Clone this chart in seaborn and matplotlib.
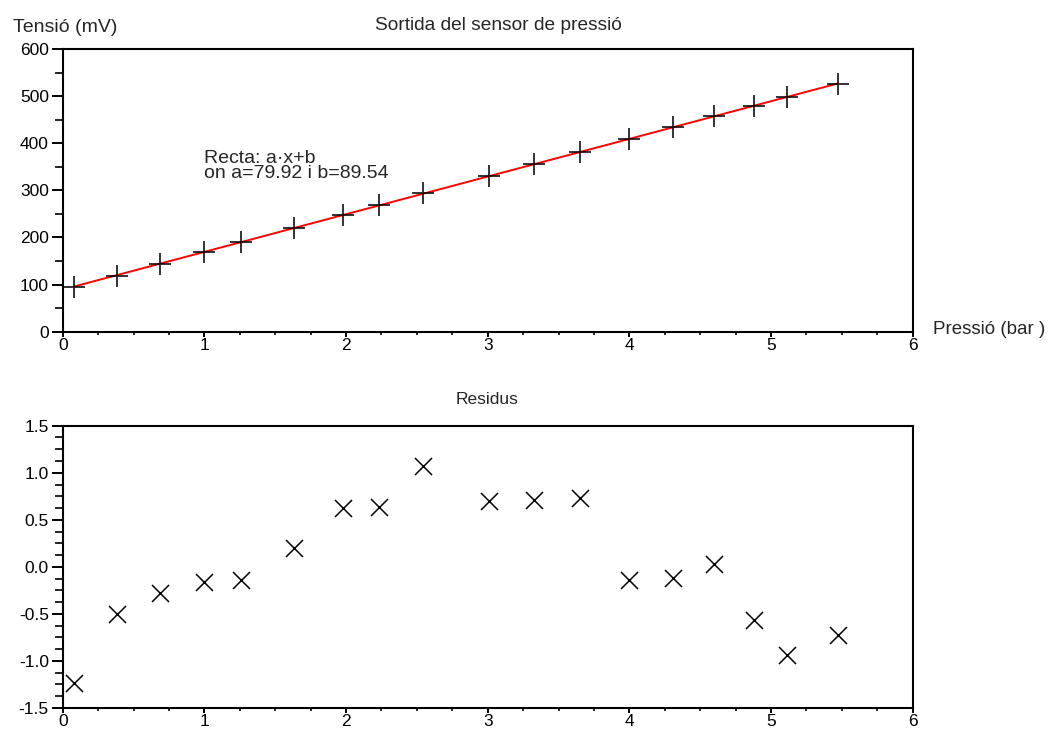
import matplotlib
matplotlib.use("Agg")
import matplotlib.pyplot as plt
from matplotlib.ticker import MultipleLocator, FormatStrFormatter
import numpy as np
import seaborn as sns

# ---- data ----
pressio = [0.08, 0.38, 0.69, 1.00, 1.26, 1.63, 1.98, 2.23, 2.54, 3.01,
           3.33, 3.65, 4.00, 4.31, 4.60, 4.88, 5.11, 5.47]
tensio = [94.7, 119.1, 144.2, 169.7, 189.8, 220.3, 248.4, 268.6, 293.7, 330.7,
          356.1, 381.7, 408.7, 433.9, 457.5, 479.4, 497.1, 525.9]
residus = [-1.23, -0.50, -0.28, -0.16, -0.14, 0.20, 0.63, 0.64, 1.07, 0.70,
           0.71, 0.73, -0.14, -0.12, 0.03, -0.56, -0.94, -0.72]

title_top = "Sortida del sensor de pressió"
title_bottom = "Residus"
ylabel_top = "Tensió (mV)"
xlabel_top = "Pressió (bar )"
annot = "Recta: a·x+b\non a=79.92 i b=89.54"

sns.set_style("ticks")
plt.rcParams['font.family'] = ['Liberation Sans', 'DejaVu Sans']
plt.rcParams['axes.linewidth'] = 1.5

fig = plt.figure(figsize=(10.48, 7.31), dpi=100)
W, H = 1048, 731
def box(l, t, r, b):
    return [l / W, 1 - b / H, (r - l) / W, (b - t) / H]

ax1 = fig.add_axes(box(62.7, 49, 912.7, 331.7))
ax2 = fig.add_axes(box(62.7, 425.7, 912.7, 708))

sns.regplot(x=pressio, y=tensio, ax=ax1, ci=None, marker='+',
            scatter_kws=dict(s=270, color='black', linewidths=1.4, zorder=3),
            line_kws=dict(color='red', lw=1.4, zorder=2))
sns.scatterplot(x=pressio, y=residus, ax=ax2, marker='x', s=150,
                color='black', linewidth=1.1)

fs = 12.5
for ax in (ax1, ax2):
    ax.set_xlim(0, 6)
    ax.xaxis.set_major_locator(MultipleLocator(1))
    ax.xaxis.set_minor_locator(MultipleLocator(0.25))
    ax.tick_params(which='major', direction='out', length=8, width=1.4,
                   labelsize=fs, colors='black', pad=2)
    ax.tick_params(axis='x', which='minor', direction='out', length=2.5, width=1.4)
    ax.tick_params(axis='y', which='minor', direction='out', length=5.5, width=1.4)
    ax.tick_params(axis='x', which='major', length=3.5, pad=1)
    for s in ax.spines.values():
        s.set_visible(True)
        s.set_linewidth(1.5)
        s.set_color('black')
    ax.set_xlabel("")
    ax.set_ylabel("")

ax1.set_ylim(0, 600)
ax1.yaxis.set_major_locator(MultipleLocator(100))
ax1.yaxis.set_minor_locator(MultipleLocator(50))

ax2.set_ylim(-1.5, 1.5)
ax2.yaxis.set_major_locator(MultipleLocator(0.5))
ax2.yaxis.set_minor_locator(MultipleLocator(0.125))
ax2.yaxis.set_major_formatter(FormatStrFormatter('%.1f'))

ax1.text(1.0, 318, annot, fontsize=14, linespacing=0.8, va='bottom', ha='left')

fig.text(498 / W, 1 - 25 / H, title_top, ha='center', va='center', fontsize=13.8)
fig.text(487 / W, 1 - 400 / H, title_bottom, ha='center', va='center', fontsize=fs)
fig.text(13 / W, 1 - 28 / H, ylabel_top, ha='left', va='center', fontsize=14)
fig.text(933 / W, 1 - 330 / H, xlabel_top, ha='left', va='center', fontsize=13.5)

fig.savefig("out.png", dpi=100, facecolor='white')
